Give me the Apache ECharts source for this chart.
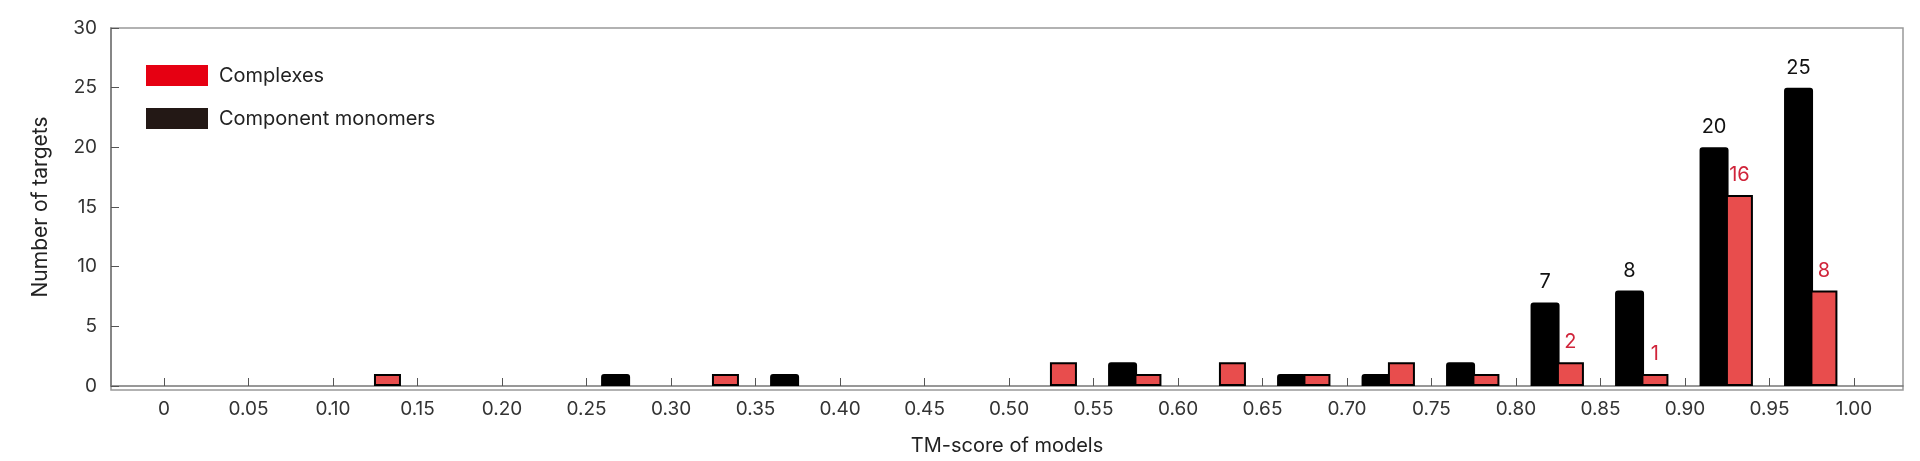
<!DOCTYPE html>
<html><head><meta charset="utf-8">
<script src="https://cdn.jsdelivr.net/npm/echarts@6/dist/echarts.min.js"></script>
<style>html,body{margin:0;background:#fff}#c{width:1920px;height:461px}</style>
</head><body><div id="c"></div>
<script>
const binStarts = [0,0.05,0.10,0.15,0.20,0.25,0.30,0.35,0.40,0.45,0.50,0.55,0.60,0.65,0.70,0.75,0.80,0.85,0.90,0.95];
const monomers  = [0,0,0,0,0,1,0,1,0,0,0,2,0,1,1,2,7,8,20,25];
const complexes = [0,0,1,0,0,0,1,0,0,0,2,1,2,1,2,1,2,1,16,8];
const tickValues = [0,0.05,0.10,0.15,0.20,0.25,0.30,0.35,0.40,0.45,0.50,0.55,0.60,0.65,0.70,0.75,0.80,0.85,0.90,0.95,1.00];
const labelFrom = 0.80;
const font = 'Inter';
function pts(vals, off){ const out=[]; vals.forEach((v,i)=>{ if(v>0) out.push([+(binStarts[i]+off).toFixed(4), v, binStarts[i]]); }); return out; }
const chart = echarts.init(document.getElementById('c'));
chart.setOption({
  animation:false,
  textStyle:{fontFamily:font},
  grid:{left:111,right:17,top:28,bottom:71},
  legend:{left:141,top:60,orient:'vertical',icon:'rect',itemWidth:62,itemHeight:21,itemGap:22,
    textStyle:{fontSize:20,color:'#222',fontFamily:font,padding:[0,0,0,6]},
    data:[{name:'Complexes',itemStyle:{color:'#e60012',borderWidth:0}},{name:'Component monomers',itemStyle:{color:'#231815',borderWidth:0}}]},
  xAxis:{type:'value',min:-0.0314,max:1.029,
    name:'TM-score of models',nameLocation:'middle',nameGap:50,nameTextStyle:{fontSize:20,color:'#222'},
    axisLine:{onZero:false,lineStyle:{color:'#777',width:1.5}},
    axisTick:{inside:true,length:8,customValues:tickValues,lineStyle:{color:'#555'}},
    axisLabel:{customValues:tickValues,fontSize:19,color:'#333',margin:14,formatter:v=>v===0?'0':v.toFixed(2)},
    splitLine:{show:false}},
  yAxis:{type:'value',min:0,max:30,interval:5,
    name:'Number of targets',nameLocation:'middle',nameGap:60,nameTextStyle:{fontSize:21,color:'#222'},
    axisLine:{show:true,onZero:false,lineStyle:{color:'#777',width:1.5}},
    axisTick:{show:true,inside:true,length:8,lineStyle:{color:'#555'}},
    axisLabel:{fontSize:19,color:'#333',margin:14},
    splitLine:{show:false}},
  graphic:[{type:'rect',shape:{x:111,y:28,width:1792,height:362},style:{fill:'none',stroke:'#999',lineWidth:1.5},silent:true}],
  series:[
    {name:'Component monomers',type:'bar',barWidth:29,barGap:'-100%',data:pts(monomers,0.0166),
     itemStyle:{color:'#000',borderColor:'#000',borderWidth:2,borderRadius:[2,2,0,0]},
     label:{show:true,position:'top',distance:10,fontSize:20,color:'#111',formatter:p=>p.data[2]>=labelFrom?p.data[1]:''}},
    {name:'Complexes',type:'bar',barWidth:27,barGap:'-100%',data:pts(complexes,0.0322),
     itemStyle:{color:'#e84d4d',borderColor:'#000',borderWidth:2},
     label:{show:true,position:'top',distance:10,fontSize:20,color:'#d0243a',formatter:p=>p.data[2]>=labelFrom?p.data[1]:''}}
  ]
});
</script></body></html>
